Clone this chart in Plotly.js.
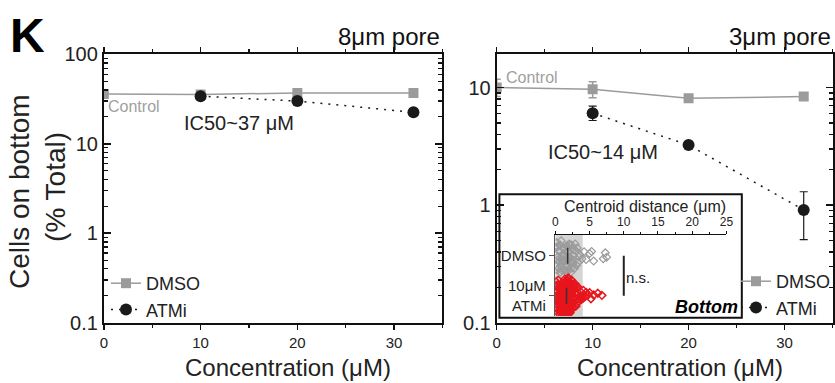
<!DOCTYPE html>
<html><head><meta charset="utf-8">
<script src="https://cdn.plot.ly/plotly-3.0.1.min.js"></script>
<style>body{margin:0;padding:0;background:#fff}#chart{width:835px;height:383px}</style>
</head><body><div id="chart"></div>
<script>
// ---- data ----
const concDMSO = [0, 10, 20, 32];
const concATMi = [10, 20, 32];
// 8 µm pore
const dmso8 = [36, 35.5, 37, 37];
const atmi8 = [34, 30, 22.5];
const atmi8Err = [1.5, 0.8, 1.2];
// 3 µm pore
const dmso3 = [10, 9.7, 8.1, 8.4];
const dmso3ErrPlus = [1.8, 1.5, 0.3, 0.3];
const dmso3ErrMinus = [1.6, 1.5, 0.3, 0.3];
const atmi3 = [6.05, 3.25, 0.91];
const atmi3ErrPlus = [0.9, 0.15, 0.39];
const atmi3ErrMinus = [0.8, 0.15, 0.40];
// inset: centroid distance (µm), cells on bottom
const insetCats = ['10μM<br>ATMi', 'DMSO'];
const insetDMSO = [0.1,0.15,0.2,0.25,0.3,0.35,0.4,0.45,0.5,0.55,0.6,0.65,0.7,0.75,0.8,0.85,0.9,0.95,1.0,1.05,1.1,1.15,1.2,1.25,1.3,1.35,1.4,1.45,1.5,1.55,1.6,1.65,1.7,1.75,1.8,1.85,1.9,1.95,2.0,2.05,2.1,2.15,2.2,2.25,2.3,2.35,2.4,2.45,2.5,2.6,2.65,2.7,2.8,2.9,3.0,3.1,3.2,3.3,3.4,3.6,3.9,4.2,4.5,5.0,5.3,5.6,7.0,7.3,7.5];
const insetATMi = [0.05,0.08,0.1,0.12,0.15,0.18,0.2,0.22,0.25,0.28,0.3,0.32,0.35,0.38,0.4,0.42,0.45,0.48,0.5,0.52,0.55,0.58,0.6,0.62,0.65,0.68,0.7,0.72,0.75,0.78,0.8,0.82,0.85,0.88,0.9,0.92,0.95,0.98,1.0,1.02,1.05,1.08,1.1,1.12,1.15,1.18,1.2,1.22,1.25,1.28,1.3,1.32,1.35,1.38,1.4,1.42,1.45,1.48,1.5,1.52,1.55,1.58,1.6,1.62,1.65,1.68,1.7,1.72,1.75,1.78,1.8,1.82,1.85,1.88,1.9,1.92,1.95,1.98,2.0,2.02,2.05,2.08,2.1,2.12,2.15,2.18,2.2,2.22,2.25,2.28,2.3,2.32,2.35,2.38,2.4,2.42,2.45,2.5,2.55,2.6,2.65,2.7,2.75,2.8,2.85,2.9,2.95,3.0,3.05,3.1,3.2,3.3,3.4,3.5,3.6,3.7,3.8,3.9,4.0,4.1,4.3,4.5,4.7,5.0,5.2,5.6,6.2,6.8];
const bandMax = 4;     // shaded region upper bound (µm)
const nsX = 10;        // position of n.s. bar (µm)

// ---- style ----
const GRAY = '#9b9b9b';
const BLACK = '#1a1a1a';
const RED = '#e8151c';
const FONT = 'Liberation Sans, Arial, Helvetica, sans-serif';
const DOTS = '2px,6px';

function median(a){const s=[...a].sort((p,q)=>p-q);const n=s.length;return n%2?s[(n-1)/2]:(s[n/2-1]+s[n/2])/2;}

const traces = [
  {x: concDMSO, y: dmso8, xaxis:'x', yaxis:'y', name:'DMSO', legend:'legend', type:'scatter', mode:'lines+markers',
   line:{color:GRAY, width:1.5}, marker:{symbol:'square', size:10, color:GRAY}},
  {x: concATMi, y: atmi8, xaxis:'x', yaxis:'y', name:'ATMi', legend:'legend', type:'scatter', mode:'lines+markers',
   line:{color:BLACK, width:1.5, dash:DOTS}, marker:{symbol:'circle', size:12, color:BLACK},
   error_y:{type:'data', array:atmi8Err, color:BLACK, thickness:1.2, width:4}},
  {x: concDMSO, y: dmso3, xaxis:'x2', yaxis:'y2', name:'DMSO', legend:'legend2', type:'scatter', mode:'lines+markers',
   line:{color:GRAY, width:1.5}, marker:{symbol:'square', size:10, color:GRAY},
   error_y:{type:'data', symmetric:false, array:dmso3ErrPlus, arrayminus:dmso3ErrMinus, color:GRAY, thickness:1.5, width:4}},
  {x: concATMi, y: atmi3, xaxis:'x2', yaxis:'y2', name:'ATMi', legend:'legend2', type:'scatter', mode:'lines+markers',
   line:{color:BLACK, width:1.5, dash:DOTS}, marker:{symbol:'circle', size:12, color:BLACK},
   error_y:{type:'data', symmetric:false, array:atmi3ErrPlus, arrayminus:atmi3ErrMinus, color:BLACK, thickness:1.2, width:4}},
  {type:'box', orientation:'h', x: insetDMSO, y0: 1, xaxis:'x3', yaxis:'y3', showlegend:false,
   boxpoints:'all', jitter:1, pointpos:0, width:0.85, whiskerwidth:0,
   fillcolor:'rgba(0,0,0,0)', line:{color:'rgba(0,0,0,0)', width:0},
   marker:{symbol:'diamond-open', size:6, color:GRAY, line:{width:1.2}}},
  {type:'box', orientation:'h', x: insetATMi, y0: 0, xaxis:'x3', yaxis:'y3', showlegend:false,
   boxpoints:'all', jitter:1, pointpos:0, width:0.9, whiskerwidth:0,
   fillcolor:'rgba(0,0,0,0)', line:{color:'rgba(0,0,0,0)', width:0},
   marker:{symbol:'diamond-open', size:6, color:RED, line:{width:1.5}}}
];

const W = 835, H = 383;
const px = v => v / W, py = v => 1 - v / H;

const xBase = {range:[0,35], dtick:10, tick0:0, showline:true, linewidth:2, linecolor:'#111', mirror:'allticks',
  ticks:'outside', ticklen:5, tickwidth:1.5, tickcolor:'#111', showgrid:false, zeroline:false,
  minor:{dtick:5, ticks:'outside', ticklen:3, tickwidth:1.2, tickcolor:'#111'},
  tickfont:{size:15, color:'#222'}};
const yBase = {type:'log', dtick:1, showline:true, linewidth:2, linecolor:'#111', mirror:'allticks',
  ticks:'inside', ticklen:7, tickwidth:1.5, tickcolor:'#111', showgrid:false, zeroline:false,
  minor:{dtick:'D1', ticks:'inside', ticklen:4, tickwidth:1.2, tickcolor:'#111', showgrid:false},
  tickfont:{size:20, color:'#222'}};

function ann(text, x, y, xanchor, size, color, extra){
  return Object.assign({text:text, x:px(x), y:py(y), xref:'paper', yref:'paper', xanchor:xanchor, yanchor:'middle',
    showarrow:false, font:{size:size, color:color}}, extra || {});
}

const layout = {
  width:W, height:H, margin:{l:0,r:0,t:0,b:0}, paper_bgcolor:'#fff', plot_bgcolor:'rgba(0,0,0,0)',
  font:{family:FONT, color:'#222'}, showlegend:true,
  xaxis: Object.assign({}, xBase, {domain:[px(104), px(443)], anchor:'y'}),
  yaxis: Object.assign({}, yBase, {domain:[py(322.7), py(54.3)], range:[-1, 2], anchor:'x'}),
  xaxis2: Object.assign({}, xBase, {domain:[px(497.3), px(833.5)], anchor:'y2'}),
  yaxis2: Object.assign({}, yBase, {domain:[py(322.7), py(54.3)], range:[-1, Math.log10(19.2)], anchor:'x2'}),
  xaxis3: {domain:[px(556), px(727.3)], anchor:'y3', side:'top', range:[0,25], dtick:5, showline:true, linewidth:1.5,
    linecolor:'#111', ticks:'outside', ticklen:3, tickcolor:'#111', showgrid:false, zeroline:false,
    minor:{dtick:2.5, ticks:'outside', ticklen:2, tickcolor:'#111'}, tickfont:{size:12, color:'#222'}},
  yaxis3: {domain:[py(316), py(235)], anchor:'x3', range:[-0.51, 1.52], tickmode:'array', tickvals:[0,1], ticktext:insetCats,
    showline:true, linewidth:1.5, linecolor:'#555', ticks:'outside', ticklen:5, tickcolor:'#555', showgrid:false, zeroline:false,
    tickfont:{size:15, color:'#222'}},
  legend: {x:px(106), y:py(265), xanchor:'left', yanchor:'top', bgcolor:'rgba(0,0,0,0)', font:{size:18, color:'#222'},
    tracegroupgap:0, itemwidth:30},
  legend2: {x:px(737), y:py(263), xanchor:'left', yanchor:'top', bgcolor:'rgba(0,0,0,0)', font:{size:18, color:'#222'},
    tracegroupgap:0, itemwidth:30},
  shapes: [
    {type:'rect', xref:'x3', yref:'y3 domain', x0:0, x1:bandMax, y0:0, y1:1, fillcolor:'#d4d4d4', line:{width:0}, layer:'below'},
    {type:'line', xref:'x3', yref:'y3', x0:median(insetDMSO), x1:median(insetDMSO), y0:0.8, y1:1.2, line:{color:'#333', width:1.5}},
    {type:'line', xref:'x3', yref:'y3', x0:median(insetATMi), x1:median(insetATMi), y0:-0.2, y1:0.2, line:{color:'#333', width:1.5}},
    {type:'line', xref:'x3', yref:'y3', x0:nsX, x1:nsX, y0:0, y1:1, line:{color:'#222', width:2}},
    {type:'rect', xref:'paper', yref:'paper', x0:px(500), x1:px(742.7), y0:py(317.7), y1:py(194.3), line:{color:'#111', width:2}, fillcolor:'rgba(0,0,0,0)'}
  ],
  annotations: [
    ann('<b>K</b>', 28, 35, 'center', 48, '#000'),
    ann('8μm pore', 443, 36, 'right', 24, '#111'),
    ann('3μm pore', 834, 36, 'right', 24, '#111'),
    ann('Cells on bottom', 20, 191, 'center', 28, '#222', {textangle:-90}),
    ann('(% Total)', 55, 187, 'center', 28, '#222', {textangle:-90}),
    ann('Concentration (μM)', 288, 367, 'center', 24, '#222'),
    ann('Concentration (μM)', 681, 367, 'center', 24, '#222'),
    ann('Control', 106, 107, 'left', 16, '#a0a0a0'),
    ann('Control', 505, 77, 'left', 16, '#a0a0a0'),
    ann('IC50~37 μM', 182, 123, 'left', 20, '#222'),
    ann('IC50~14 μM', 547, 152, 'left', 20, '#222'),
    ann('Centroid distance (μm)', 646, 206, 'center', 16, '#222'),
    ann('n.s.', 625, 277, 'left', 15, '#222'),
    ann('<b><i>Bottom</i></b>', 741, 307, 'right', 18, '#000')
  ]
};

Plotly.newPlot('chart', traces, layout, {displayModeBar:false, staticPlot:true});
</script></body></html>
